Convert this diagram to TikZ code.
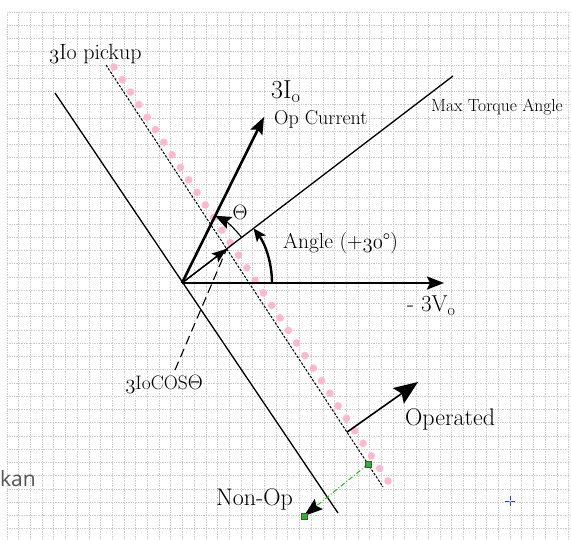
\documentclass[tikz,border=0pt]{standalone}
\usepackage{fontspec}
\newfontfamily\uifont{Open Sans}
\usetikzlibrary{arrows.meta,calc}
\definecolor{gridColor}{RGB}{205,205,205}
\definecolor{pickupColor}{RGB}{255,184,206}
\definecolor{handleColor}{RGB}{30,190,30}
\definecolor{cursorColor}{RGB}{40,60,230}
\definecolor{uiColor}{RGB}{85,85,85}
\newcommand{\osnum}[1]{{\fontencoding{OML}\fontfamily{lmm}\fontshape{it}\selectfont #1}}
\tikzset{gridline/.style={draw=gridColor, densely dotted, line width=0.7pt}}
\tikzset{txt/.style={inner sep=0pt, anchor=west, font=\fontsize{#1}{#1}\selectfont}}
\tikzset{phasor/.style={line width=2.6pt, -{Stealth[length=17pt, width=13pt, inset=3pt]}}}
\tikzset{thinline/.style={line width=1.3pt}}
\tikzset{handle/.style={draw=black!70, fill=handleColor, minimum size=6pt, inner sep=0pt, line width=0.6pt}}

\begin{document}
\begin{tikzpicture}[x=1pt, y=-1pt]
\useasboundingbox (0,0) rectangle (571,540);
% Grid
\foreach \gx in {0,...,48}
  \draw[gridline] ({7+11.7*\gx},12) -- ({7+11.7*\gx},540);
\foreach \gy in {0,...,39}
  \draw[gridline] (7,{12+13.25*\gy}) -- (571,{12+13.25*\gy});

% Points
\coordinate (origin) at (182,283);
\coordinate (vzero) at (444,283);
\coordinate (izero) at (264,117);
\coordinate (mta) at (453,76);
\coordinate (zeroA) at (55,93);
\coordinate (zeroB) at (338,513);
\coordinate (pickA) at (106,65);
\coordinate (pickB) at (383,487);
\coordinate (proj) at (intersection of origin--mta and pickA--pickB);
\coordinate (opStart) at ($(pickA)!0.87!(pickB)$);
\coordinate (opEnd) at (418,382);
\coordinate (nonStart) at ($(pickA)!0.946!(pickB)$);
\coordinate (nonEnd) at (304,516);
\coordinate (cosTip) at (175,370);
\coordinate (cursor) at (510,501);

% Pickup dots
\foreach \i in {0,...,33}
  \fill[pickupColor] ($(114,67)!\i/33!(388,481)$) circle[radius=3.8pt];

% Nodes
\node[txt=22] (pickupLabel) at (49,54) {\osnum{3}Io pickup};
\node[txt=26] (izeroLabel) at (271,92) {3I\textsubscript{o}};
\node[txt=20] (opCurrentLabel) at (274,119) {Op Current};
\node[txt=17.5] (mtaLabel) at (431,107) {Max Torque Angle};
\node[txt=21.5] (angleLabel) at (283,243) {Angle (+\osnum{30}\textdegree)};
\node[txt=23] (vzeroLabel) at (407,306) {- 3V\textsubscript{o}};
\node[txt=20, anchor=center] (thetaLabel) at (240,212) {$\Theta$};
\node[txt=19.5, anchor=center] (cosLabel) at (164,384) {\osnum{3}IoCOS$\Theta$};
\node[txt=24] (operatedLabel) at (405,419) {Operated};
\node[txt=24] (nonOpLabel) at (216,499) {Non-Op};
\node[txt=21, text=uiColor, font=\uifont\fontsize{21}{21}\selectfont] (kanLabel) at (0,479) {kan};

% Connectors
\draw[thinline] (zeroA) -- (zeroB);
\draw[line width=1pt, dash pattern=on 2.5pt off 1.5pt] (pickA) -- (pickB);
\draw[thinline] (origin) -- (mta);
\draw[phasor] (origin) -- (vzero);
\draw[phasor] (origin) -- (izero);
\draw[thinline, -{Stealth[length=15pt, width=11pt, inset=3pt]}] (origin) -- (proj);
\draw[line width=1.1pt, dash pattern=on 9pt off 5pt] (cosTip) -- (proj);

\draw[line width=2.4pt, -{Stealth[length=13pt, width=11pt, inset=3pt]}] ($(origin)+(90,0)$) arc[start angle=0, end angle=-37.4, radius=90];
\draw[line width=1.1pt, -{Stealth[length=16pt, width=13pt, inset=3pt]}] ($(origin)+(-37.4:75)$) arc[start angle=-37.4, end angle=-63.7, radius=75];

\draw[line width=1.6pt, -{Stealth[length=24pt, width=19pt, inset=4pt]}] (opStart) -- (opEnd);
\draw[handleColor, line width=1pt, dash pattern=on 5pt off 2pt on 1pt off 2pt, -{Stealth[black, length=19pt, width=13pt, inset=3pt]}] (nonStart) -- (nonEnd);
\node[handle] (handleA) at (nonStart) {};
\node[handle] (handleB) at (nonEnd) {};

% Cursor
\draw[cursorColor, line width=1pt] (cursor) +(-5,0) -- +(5,0) (cursor) +(0,-5) -- +(0,5);
\fill[white] (cursor) circle[radius=1pt];
\end{tikzpicture}
\end{document}
